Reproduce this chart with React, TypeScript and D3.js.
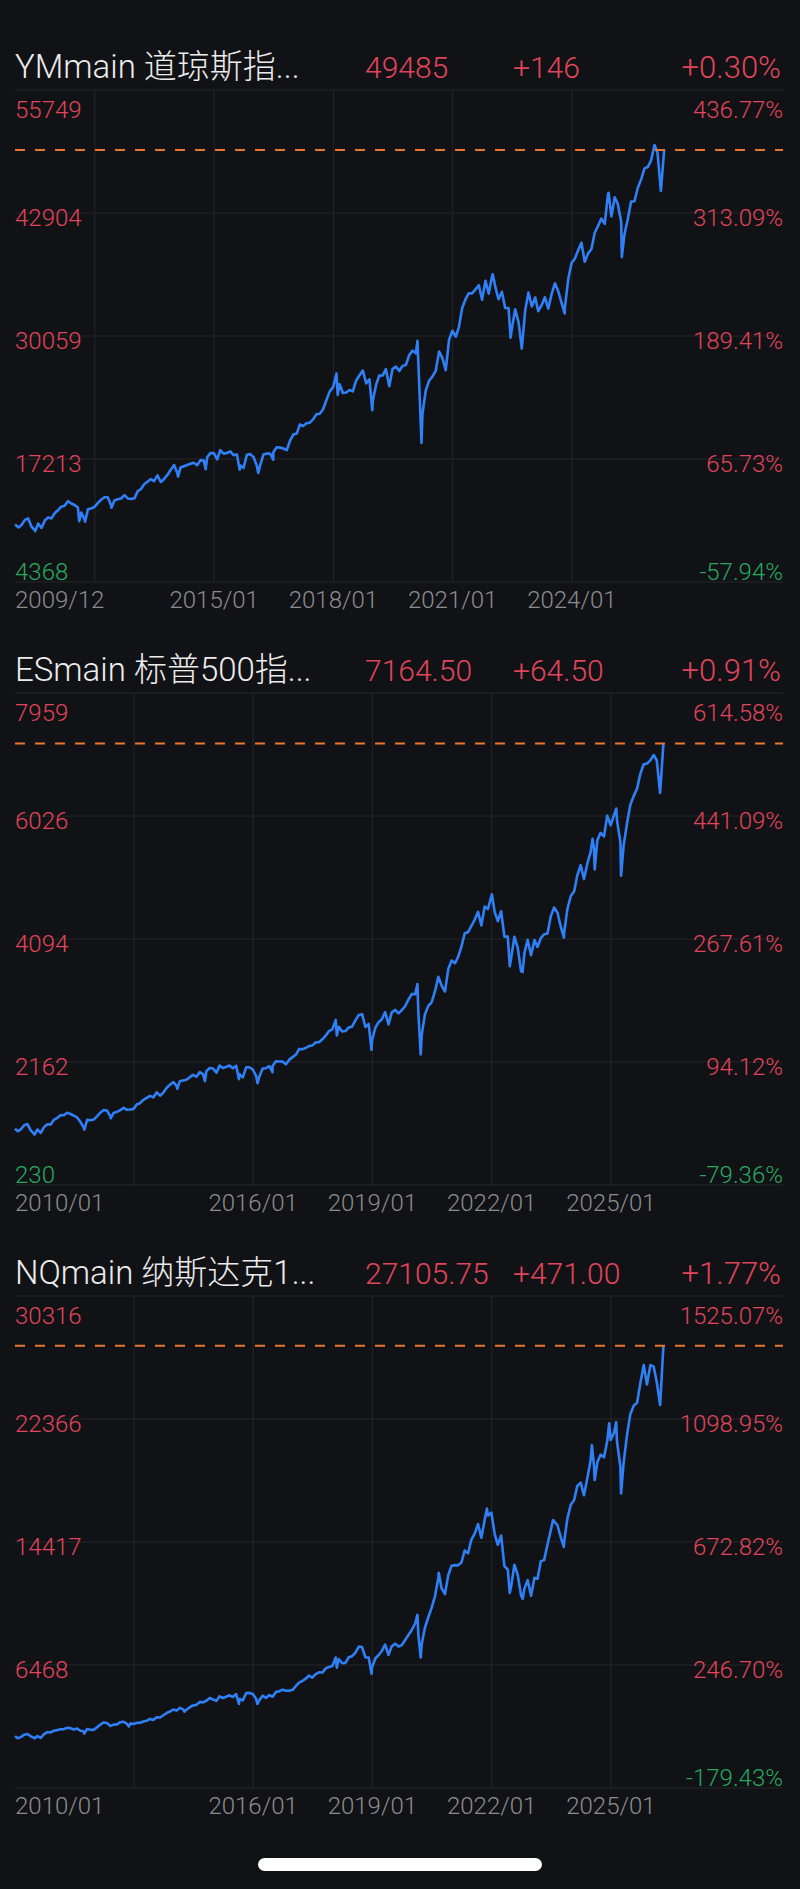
import React from "react";
import * as d3 from "d3";

const W = 800;
const H = 1889;

// ---------- YM (Dow futures) ----------
const YM_TITLE = ["YMmain 道琼斯指...", "49485", "+146", "+0.30%"];
const YM_FIRST_DATE = "2009-12-28";
const YM_FIRST_VALUE = 10385;
const YM_FIRST_LABEL = "2009/12";
const YM_TICKS = ["2012-01-01", "2015-01-01", "2018-01-01", "2021-01-01", "2024-01-01"];
const YM_PRICE_TICKS = [4368, 17213, 30059, 42904, 55749];
const YM_PCT_TICKS = ["-57.94%", "65.73%", "189.41%", "313.09%", "436.77%"];
// monthly closes Jan 2010 .. Apr 2026
const YM_MONTHLY = [
  10067, 10325, 10857, 11009, 10137, 9774, 10466, 10015, 10788, 11118, 11006, 11578,
  11892, 12226, 12320, 12811, 12570, 12414, 12143, 11614, 10913, 11955, 12046, 12218,
  12633, 12952, 13212, 13214, 12393, 12880, 13009, 13091, 13437, 13096, 13026, 13104,
  13861, 14054, 14579, 14840, 15116, 14910, 15500, 14810, 15130, 15546, 16086, 16577,
  15699, 16322, 16458, 16581, 16717, 16827, 16563, 17098, 17043, 17391, 17828, 17823,
  17165, 18133, 17776, 17841, 18011, 17620, 17690, 16528, 16285, 17664, 17720, 17425,
  16466, 16517, 17685, 17774, 17787, 17930, 18432, 18401, 18308, 18142, 19124, 19763,
  19864, 20812, 20663, 20941, 21009, 21350, 21891, 21948, 22405, 23377, 24272, 24719,
  26149, 25029, 24103, 24163, 24416, 24271, 25415, 25965, 26458, 25116, 25538, 23327,
  24999, 25916, 25929, 26593, 24815, 26600, 26864, 26403, 26917, 27046, 28051, 28538,
  28256, 25409, 21917, 24346, 25383, 25813, 26428, 28430, 27782, 26502, 29639, 30606,
  29983, 30932, 32982, 33875, 34529, 34503, 34935, 35361, 33844, 35820, 34484, 36338,
  35132, 33893, 34678, 32977, 32990, 30775, 32845, 31510, 28726, 32733, 34590, 33147,
  34086, 32657, 33274, 34098, 32908, 34408, 35560, 34722, 33508, 33053, 35951, 37690,
  38150, 38996, 39807, 37816, 38686, 39119, 40843, 41563, 42330, 41763, 44911, 42544,
  44544, 43841, 42002, 40669, 42270, 44095, 44131, 45545, 46398, 47563, 47700, 48400,
  50000, 49200, 45200, 49485,
];
const YM_EXTRA_DATES = [
  "2010-07-02", "2011-08-10", "2011-10-03", "2012-06-01", "2014-02-03", "2014-10-15",
  "2015-08-24", "2016-02-10", "2016-06-27", "2018-02-09", "2018-12-24", "2020-02-12",
  "2020-03-20", "2022-01-04", "2022-06-17", "2023-10-27", "2024-12-04", "2025-04-04",
];
const YM_EXTRA_VALUES = [
  9686, 10720, 10655, 12119, 15372, 16142,
  16100, 15750, 17140, 23900, 22300, 29550,
  18900, 36500, 29890, 32418, 45014, 38300,
];

// ---------- ES (S&P 500 futures) ----------
const ES_TITLE = ["ESmain 标普500指...", "7164.50", "+64.50", "+0.91%"];
const ES_FIRST_DATE = "2010-01-04";
const ES_FIRST_VALUE = 1114;
const ES_FIRST_LABEL = "2010/01";
const ES_TICKS = ["2013-01-01", "2016-01-01", "2019-01-01", "2022-01-01", "2025-01-01"];
const ES_PRICE_TICKS = [230, 2162, 4094, 6026, 7959];
const ES_PCT_TICKS = ["-79.36%", "94.12%", "267.61%", "441.09%", "614.58%"];
const ES_MONTHLY = [
  1074, 1104, 1169, 1187, 1089, 1031, 1102, 1049, 1141, 1183, 1181, 1258,
  1286, 1327, 1326, 1364, 1345, 1321, 1292, 1219, 1131, 1253, 1247, 1258,
  1312, 1366, 1408, 1398, 1310, 1362, 1379, 1407, 1441, 1412, 1416, 1426,
  1498, 1515, 1569, 1598, 1631, 1606, 1686, 1633, 1682, 1757, 1806, 1848,
  1783, 1859, 1872, 1884, 1924, 1960, 1931, 2003, 1972, 2018, 2068, 2059,
  1995, 2105, 2068, 2086, 2107, 2063, 2104, 1972, 1920, 2079, 2080, 2044,
  1940, 1932, 2060, 2065, 2097, 2099, 2174, 2171, 2168, 2126, 2199, 2239,
  2279, 2364, 2363, 2384, 2412, 2423, 2470, 2472, 2519, 2575, 2648, 2674,
  2824, 2714, 2641, 2648, 2705, 2718, 2816, 2902, 2914, 2712, 2760, 2507,
  2704, 2784, 2834, 2946, 2752, 2942, 2980, 2926, 2977, 3038, 3141, 3231,
  3226, 2954, 2585, 2912, 3044, 3100, 3271, 3500, 3363, 3270, 3622, 3756,
  3714, 3811, 3973, 4181, 4204, 4298, 4395, 4523, 4308, 4605, 4567, 4766,
  4516, 4374, 4530, 4132, 4132, 3785, 4130, 3955, 3586, 3872, 4080, 3840,
  4077, 3970, 4109, 4169, 4180, 4450, 4589, 4508, 4288, 4194, 4568, 4770,
  4846, 5096, 5254, 5036, 5278, 5460, 5522, 5648, 5762, 5705, 6032, 5882,
  6041, 5955, 5612, 5569, 5912, 6205, 6339, 6460, 6688, 6840, 6850, 6900,
  6985, 6900, 6388, 7164.5,
];
const ES_EXTRA_DATES = [
  "2010-07-02", "2011-10-03", "2012-06-01", "2014-02-03", "2014-10-15", "2015-08-24",
  "2016-02-11", "2016-06-27", "2018-02-08", "2018-12-24", "2020-02-19", "2020-03-20",
  "2022-01-03", "2022-06-16", "2022-10-12", "2023-10-27", "2024-07-16", "2024-08-05",
  "2025-02-19", "2025-04-04",
];
const ES_EXTRA_VALUES = [
  1022, 1099, 1278, 1741, 1862, 1893,
  1829, 2001, 2581, 2351, 3386, 2280,
  4796, 3667, 3577, 4117, 5667, 5186,
  6144, 5090,
];

// ---------- NQ (Nasdaq 100 futures) ----------
const NQ_TITLE = ["NQmain 纳斯达克1...", "27105.75", "+471.00", "+1.77%"];
const NQ_FIRST_DATE = "2010-01-04";
const NQ_FIRST_VALUE = 1865;
const NQ_FIRST_LABEL = "2010/01";
const NQ_TICKS = ["2013-01-01", "2016-01-01", "2019-01-01", "2022-01-01", "2025-01-01"];
const NQ_PRICE_TICKS = [-1481, 6468, 14417, 22366, 30316];
const NQ_PCT_TICKS = ["-179.43%", "246.70%", "672.82%", "1098.95%", "1525.07%"];
const NQ_MONTHLY = [
  1741, 1806, 1957, 2012, 1860, 1754, 1872, 1760, 2004, 2137, 2109, 2217,
  2265, 2320, 2326, 2404, 2391, 2301, 2357, 2218, 2170, 2336, 2284, 2278,
  2451, 2619, 2755, 2716, 2530, 2616, 2632, 2772, 2799, 2660, 2677, 2661,
  2731, 2738, 2819, 2866, 2982, 2910, 3093, 3073, 3218, 3363, 3462, 3592,
  3521, 3697, 3596, 3580, 3737, 3850, 3892, 4083, 4049, 4158, 4337, 4236,
  4151, 4445, 4334, 4415, 4509, 4397, 4589, 4275, 4182, 4648, 4665, 4593,
  4279, 4201, 4484, 4341, 4524, 4418, 4730, 4771, 4875, 4801, 4810, 4863,
  5119, 5330, 5436, 5584, 5788, 5647, 5873, 5989, 5979, 6248, 6337, 6397,
  6949, 6856, 6581, 6606, 6967, 7040, 7272, 7657, 7627, 6968, 6949, 6330,
  6907, 7097, 7378, 7781, 7127, 7672, 7848, 7663, 7750, 8083, 8403, 8733,
  9150, 8462, 7813, 8890, 9556, 10157, 10906, 12111, 11418, 11052, 12268, 12888,
  12925, 12909, 13091, 13861, 13687, 14554, 14960, 15582, 14690, 15850, 16135, 16320,
  14930, 14238, 14838, 12855, 12643, 11504, 12947, 12272, 10971, 11406, 11951, 10940,
  12102, 12042, 13181, 13246, 14254, 15180, 15758, 15502, 14715, 14410, 15948, 16826,
  17137, 18044, 18255, 17441, 18537, 19683, 19363, 19575, 20061, 19890, 20930, 21012,
  21478, 20884, 19278, 19571, 21341, 22679, 23218, 23415, 24680, 25859, 24600, 25850,
  25750, 24760, 23270, 27105.75,
];
const NQ_EXTRA_DATES = [
  "2010-07-02", "2011-10-03", "2012-11-15", "2014-04-11", "2015-08-24", "2016-02-09",
  "2018-02-08", "2018-12-24", "2020-02-19", "2020-03-20", "2020-09-02", "2021-11-19",
  "2022-06-16", "2022-10-13", "2023-07-19", "2023-10-26", "2024-07-10", "2024-08-05",
  "2024-12-16", "2025-02-18", "2025-04-04",
];
const NQ_EXTRA_VALUES = [
  1728, 2038, 2500, 3448, 3947, 3948,
  6296, 5899, 9718, 6950, 12420, 16573,
  11128, 10750, 15842, 14100, 20675, 18420,
  22096, 22175, 17550,
];

// ---------- styling ----------
const BG = "#111215";
const GRID = "#24262a";
const RED = "#e0455b";
const GREEN = "#27a95f";
const BLUE = "#2f80f6";
const ORANGE = "#e8762c";
const WHITE = "#ececec";
const GRAY = "#8c8c90";
const FONT = "Roboto, 'Noto Sans CJK SC', sans-serif";

const parse = d3.timeParse("%Y-%m-%d");
const fmt = d3.timeFormat("%Y/%m");

type Cfg = {
  title: string[];
  firstDate: string;
  firstValue: number;
  firstLabel: string;
  ticks: string[];
  priceTicks: number[];
  pctTicks: string[];
  monthly: number[];
  extraDates: string[];
  extraValues: number[];
};

const PANELS: Cfg[] = [
  { title: YM_TITLE, firstDate: YM_FIRST_DATE, firstValue: YM_FIRST_VALUE, firstLabel: YM_FIRST_LABEL, ticks: YM_TICKS, priceTicks: YM_PRICE_TICKS, pctTicks: YM_PCT_TICKS, monthly: YM_MONTHLY, extraDates: YM_EXTRA_DATES, extraValues: YM_EXTRA_VALUES },
  { title: ES_TITLE, firstDate: ES_FIRST_DATE, firstValue: ES_FIRST_VALUE, firstLabel: ES_FIRST_LABEL, ticks: ES_TICKS, priceTicks: ES_PRICE_TICKS, pctTicks: ES_PCT_TICKS, monthly: ES_MONTHLY, extraDates: ES_EXTRA_DATES, extraValues: ES_EXTRA_VALUES },
  { title: NQ_TITLE, firstDate: NQ_FIRST_DATE, firstValue: NQ_FIRST_VALUE, firstLabel: NQ_FIRST_LABEL, ticks: NQ_TICKS, priceTicks: NQ_PRICE_TICKS, pctTicks: NQ_PCT_TICKS, monthly: NQ_MONTHLY, extraDates: NQ_EXTRA_DATES, extraValues: NQ_EXTRA_VALUES },
];

const LEFT = 15;
const RIGHT = 783;
const SPAN_DAYS = 7057;

function Panel({ cfg, off }: { cfg: Cfg; off: number }) {
  const top = 90 + off;
  const bottom = 582 + off;
  const first = parse(cfg.firstDate) as Date;
  const x = d3.scaleTime().domain([first, d3.timeDay.offset(first, SPAN_DAYS)]).range([LEFT, RIGHT]);
  const y = d3
    .scaleLinear()
    .domain([cfg.priceTicks[0], cfg.priceTicks[cfg.priceTicks.length - 1]])
    .range([bottom, top]);

  const months = d3.timeMonth.range(new Date(2010, 0, 1), new Date(2010, 0 + cfg.monthly.length, 1));
  const pts: [Date, number][] = [[first, cfg.firstValue]];
  months.forEach((m, i) => pts.push([d3.timeDay.offset(d3.timeMonth.offset(m, 1), -3), cfg.monthly[i]]));
  cfg.extraDates.forEach((d, i) => pts.push([parse(d) as Date, cfg.extraValues[i]]));
  pts.sort((a, b) => +a[0] - +b[0]);
  const last = cfg.monthly[cfg.monthly.length - 1];

  const line = d3
    .line<[Date, number]>()
    .x((d) => x(d[0]))
    .y((d) => y(d[1]));

  const firstLabelRight = LEFT + 92;
  const tickDates = cfg.ticks.map((t) => parse(t) as Date);

  return (
    <g>
      {/* title row */}
      <text x={15} y={78 + off} fill={WHITE} fontSize={33} fontWeight={300}>{cfg.title[0]}</text>
      <text x={365} y={78 + off} fill={RED} fontSize={30} fontWeight={300}>{cfg.title[1]}</text>
      <text x={513} y={78 + off} fill={RED} fontSize={30} fontWeight={300}>{cfg.title[2]}</text>
      <text x={781} y={78 + off} fill={RED} fontSize={31} fontWeight={300} textAnchor="end">{cfg.title[3]}</text>

      {/* horizontal grid */}
      {cfg.priceTicks.map((v, i) => (
        <line key={"h" + i} x1={LEFT} x2={RIGHT} y1={y(v)} y2={y(v)} stroke={GRID} strokeWidth={1} />
      ))}
      {/* vertical grid */}
      {tickDates.map((d, i) => (
        <line key={"v" + i} x1={x(d)} x2={x(d)} y1={top} y2={bottom} stroke={GRID} strokeWidth={1} />
      ))}

      {/* line */}
      <path d={line(pts) || ""} fill="none" stroke={BLUE} strokeWidth={2.6} strokeLinejoin="round" />

      {/* current price */}
      <line x1={LEFT} x2={RIGHT} y1={y(last)} y2={y(last)} stroke={ORANGE} strokeWidth={2} strokeDasharray="10 10" />

      {/* y labels */}
      {cfg.priceTicks.map((v, i) => {
        const n = cfg.priceTicks.length;
        const yy = i === 0 ? y(v) - 2 : i === n - 1 ? y(v) + 28 : y(v) + 13;
        const pctNeg = cfg.pctTicks[i].startsWith("-");
        return (
          <g key={"yl" + i}>
            {v >= 0 && (
              <text x={LEFT} y={yy} fill={v < cfg.firstValue ? GREEN : RED} fontSize={24} fontWeight={300}>
                {v}
              </text>
            )}
            <text x={RIGHT} y={yy} fill={pctNeg ? GREEN : RED} fontSize={24} fontWeight={300} textAnchor="end">
              {cfg.pctTicks[i]}
            </text>
          </g>
        );
      })}

      {/* x labels */}
      <text x={LEFT} y={bottom + 26} fill={GRAY} fontSize={24} fontWeight={300}>{cfg.firstLabel}</text>
      {tickDates.map((d, i) =>
        x(d) - 46 < firstLabelRight + 8 ? null : (
          <text key={"xl" + i} x={x(d)} y={bottom + 26} fill={GRAY} fontSize={24} fontWeight={300} textAnchor="middle">
            {fmt(d)}
          </text>
        )
      )}
    </g>
  );
}

export default function App() {
  return (
    <svg
      width={W}
      height={H}
      style={{ position: "absolute", left: 0, top: 0, display: "block" }}
      fontFamily={FONT}
    >
      <rect x={0} y={0} width={W} height={H} fill={BG} />
      {PANELS.map((p, i) => (
        <Panel key={i} cfg={p} off={i * 603} />
      ))}
      <rect x={258} y={1858} width={284} height={13} rx={6.5} fill="#ffffff" />
    </svg>
  );
}
